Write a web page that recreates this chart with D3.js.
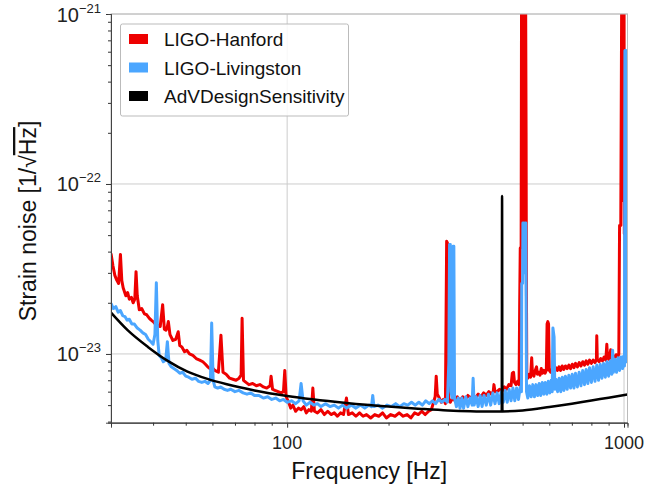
<!DOCTYPE html>
<head>
  <meta charset="utf-8">
  <title>Strain noise</title>
  <script src="https://cdn.jsdelivr.net/npm/d3@7/dist/d3.min.js"></script>
  <style>
    body { margin: 0; background: #fff; }
    text { font-family: "Liberation Sans", Arial, Helvetica, sans-serif; }
  </style>
</head>
<body>
<script>
// ASD values are in units of 1e-23 / sqrt(Hz); pairs are [frequency Hz, value]
var UNIT = 1e-23

var hanford = [
  [30,3.9],[30.4,3.3],[30.8,2.9],[31.2,2.72],[31.6,2.6],[32.0,3.85],[32.3,2.7],[32.6,2.45],[33.2,2.2],[33.6,2.3],
  [34.0,2.1],[34.5,2.15],[34.9,2.0],[35.3,2.1],[35.6,3.05],[35.9,2.2],[36.4,1.82],[37.0,1.85],[37.7,1.72],[38.3,1.7],
  [39.0,1.62],[39.5,1.58],[40.0,1.55],[40.6,1.5],[41.3,1.47],[42.0,1.45],[42.7,1.95],[43.2,1.4],[43.7,1.38],[44.1,1.45],
  [44.4,1.55],[44.9,1.3],[45.8,1.2],[46.7,1.22],[47.5,1.35],[48.0,1.12],[48.7,1.1],[49.6,1.03],[50.4,1.05],[51.3,1.0],
  [52.5,0.98],[53.7,0.94],[55.0,0.92],[56.2,0.9],[57.2,0.87],[58.1,0.84],[59.0,0.82],[60.0,0.83],[61.0,0.8],[62.5,0.78],
  [63.6,1.29],[64.5,0.78],[65.9,0.76],[67.5,0.72],[69,0.71],[70.5,0.7],[72,0.72],[73.0,0.75],[73.5,1.62],[74.2,0.7],
  [75.5,0.68],[77,0.66],[79,0.67],[81,0.65],[83,0.66],[85,0.64],[87,0.63],[89,0.65],[89.6,0.74],[90.5,0.62],
  [92,0.61],[94,0.6],[96,0.59],[97.5,0.6],[98.4,0.8],[99.3,0.56],[101,0.52],[102.5,0.48],[104,0.5],[106,0.46],
  [108,0.48],[110,0.47],[112,0.49],[114,0.45],[116,0.47],[118,0.46],[119.2,0.63],[120.5,0.46],[123,0.45],[126,0.47],
  [129,0.44],[132,0.46],[135,0.44],[138,0.45],[141,0.43],[144,0.45],[147,0.44],[150,0.55],[152,0.44],[156,0.45],
  [160,0.43],[164,0.45],[168,0.43],[172,0.44],[177,0.42],[182,0.44],[187,0.43],[192,0.45],[197,0.42],[203,0.44],
  [209,0.43],[215,0.45],[221,0.43],[227,0.44],[233,0.42],[239,0.45],[245,0.44],[251,0.46],[257,0.44],[263,0.46],
  [268,0.47],[272,0.52],[275,0.56],[277,0.74],[279,0.58],[283,0.55],[287,0.52],[291,0.54],[295,0.51],[296.5,2.0],
  [297.5,4.6],[299,4.5],[300,0.9],[302,0.53],[305,0.52],[310,0.55],[315,0.53],[320,0.56],[326,0.53],[332,0.56],
  [338,0.54],[344,0.57],[350,0.55],[356,0.57],[362,0.55],[369,0.58],[376,0.56],[383,0.59],[390,0.57],[397,0.6],
  [404,0.58],[409,0.6],[411,0.66],[414,0.6],[420,0.6],[427,0.62],[434,0.6],[441,0.64],[448,0.62],[455,0.66],
  [462,0.65],[466,0.77],[470,0.78],[473,0.68],[478,0.66],[483,0.69],[488,0.66],[490,1.9],[492,4.2],[495,4.2],
  [496.5,200],[498,6],[500,200],[502,6],[504,200],[506,6],[508,200],[510,200],[512,20],[513,3.0],
  [514.5,0.75],[518,0.72],[523,0.76],[528,0.73],[532,0.95],[535,0.76],[540,0.74],
  [545,0.8],[550,0.84],[553,0.76],[558,0.78],[563,0.75],[568,0.82],[573,0.77],[578,0.8],[583,0.77],[588,0.8],
  [591,1.5],[594,1.55],[597,1.5],[600,0.8],[606,0.78],[613,0.82],[620,0.79],[627,0.83],[634,0.8],[641,0.84],
  [648,0.8],[655,0.85],[662,0.81],[670,0.85],[678,0.82],[686,0.86],[694,0.82],[702,0.87],[710,0.83],[718,0.88],
  [727,0.84],[736,0.89],[745,0.85],[754,0.9],[763,0.86],[772,0.91],[781,0.87],[790,0.92],[800,0.88],[810,0.92],
  [820,0.89],[828,0.93],[830,1.28],[833,0.93],[843,0.9],[853,0.94],[863,0.91],[873,0.96],[883,0.92],[889,1.14],
  [893,0.96],[903,0.93],[913,1.06],[918,0.95],[928,0.98],[938,0.94],[948,0.99],[958,0.96],[965,1.0],[970,5.7],
  [978,5.7],[985,200],[988,8],[991,200],[994,8],[997,200],[1000,200],[1002,5.1],[1007,5.1],[1010,1.05],
  [1016,1.0],[1024,1.02]
]

var livingston = [
  [30,1.98],[30.5,1.85],[31,1.9],[31.5,1.76],[32,1.8],[32.5,1.68],[33,1.66],[33.5,1.58],[34,1.6],[34.6,1.5],
  [35.2,1.5],[35.9,1.42],[36.6,1.38],[37.3,1.33],[38,1.3],[38.7,1.22],[39.4,1.18],[40.0,1.14],[40.5,1.3],[40.9,2.62],
  [41.3,1.2],[41.7,0.98],[42.3,0.95],[42.9,0.9],[43.6,0.92],[44.1,1.18],[44.6,0.88],[45.3,0.84],[46.1,0.82],[47,0.8],
  [48,0.77],[49,0.78],[50,0.74],[51,0.73],[52.2,0.71],[53.4,0.72],[54.6,0.69],[55.8,0.68],[57,0.69],[58.2,0.67],
  [59.2,0.7],[59.7,1.52],[60.3,0.7],[61,0.64],[62.2,0.63],[63.5,0.64],[65,0.62],[66.5,0.61],[68,0.62],[70,0.6],
  [72,0.61],[74,0.59],[76,0.58],[78,0.59],[80,0.57],[82.5,0.57],[85,0.55],[87.5,0.56],[90,0.54],[92.5,0.55],
  [95,0.53],[97.5,0.54],[100,0.52],[103,0.53],[106,0.51],[108.5,0.53],[110,0.67],[111.5,0.53],[114,0.5],[117,0.52],
  [120,0.5],[123,0.51],[126,0.49],[130,0.51],[134,0.49],[138,0.5],[142,0.48],[146,0.5],[150,0.48],[155,0.5],
  [160,0.48],[165,0.5],[170,0.48],[175,0.5],[178,0.49],[179.5,0.57],[181,0.49],[186,0.5],[192,0.48],[198,0.5],
  [204,0.49],[210,0.51],[216,0.49],[222,0.51],[228,0.5],[234,0.52],[240,0.5],[246,0.52],[252,0.5],[258,0.53],
  [264,0.51],[270,0.53],[276,0.51],[282,0.54],[288,0.52],[294,0.54],[299,0.52],[302,0.9],[303.5,4.4],[305,4.4],
  [306.5,0.6],[309,0.55],[311,4.3],[312.5,4.3],[314,0.55],[318,0.49],[322,0.55],[326,0.48],[330,0.55],[334,0.48],
  [339,0.56],[344,0.49],[349,0.55],[354,0.5],[356.5,0.72],[359,0.5],[364,0.56],[369,0.49],[374,0.57],[379,0.49],
  [384,0.57],[390,0.5],[396,0.58],[402,0.5],[408,0.59],[414,0.51],[420,0.59],[426,0.51],[432,0.6],[438,0.52],
  [444,0.61],[450,0.52],[456,0.62],[462,0.53],[468,0.63],[474,0.53],[480,0.63],[486,0.54],[492,0.64],[496,0.6],
  [497,2.6],[500,2.6],[501,5.9],[503,3],[505,5.9],[507,3],[509,5.9],[511,5.9],[512,2.2],[513.5,0.6],
  [518,0.55],[524,0.65],[530,0.56],[536,0.66],
  [542,0.56],[548,0.66],[554,0.57],[560,0.67],[566,0.57],[572,0.68],[578,0.58],[584,0.68],[590,0.58],[596,0.69],
  [602,0.59],[608,0.7],[612,0.6],[615,1.42],[620,1.26],[623,0.62],[628,0.71],[635,0.6],[642,0.72],[649,0.6],
  [656,0.73],[663,0.61],[670,0.74],[678,0.62],[686,0.75],[694,0.63],[702,0.76],[710,0.63],[718,0.77],[727,0.64],
  [736,0.78],[745,0.65],[754,0.8],[763,0.66],[772,0.81],[781,0.67],[790,0.83],[800,0.68],[810,0.84],[820,0.69],
  [830,0.86],[840,0.7],[850,0.87],[860,0.72],[870,0.88],[880,0.73],[890,0.9],[900,0.74],[910,0.91],[920,0.76],
  [925,1.05],[930,0.78],[940,0.93],[950,0.78],[960,0.95],[970,0.8],[980,0.96],[990,0.82],[997,0.97],[1003,0.85],
  [1006,61],[1009,10],[1012,61],[1015,61],[1018,0.9],[1024,0.92]
]

var advDesign = [
  [30,1.75],[33.6,1.38],[38.6,1.10],[44.2,0.91],[50.6,0.787],[58,0.713],[66.2,0.663],[80,0.61],[100,0.566],[150,0.515],
  [200,0.49],[250,0.475],[300,0.465],[350,0.46],[400,0.458],[433.5,0.458],[434.5,8.5],[435.5,0.459],[500,0.465],[600,0.487],
  [700,0.51],[800,0.533],[900,0.553],[1024,0.577]
]

var seriesNames = ["LIGO-Hanford", "LIGO-Livingston", "AdVDesignSensitivity"]
var seriesColors = ["#ee0000", "#4ba6ff", "#000000"]
var yLabelExps = [-23, -22, -21]
var xLabelVals = [100, 1000]

var W = 646, H = 489
var svg = d3.select("body").append("svg").attr("width", W).attr("height", H)
svg.append("rect").attr("width", W).attr("height", H).attr("fill", "#fff")

var margin = {left: 111, right: 627.5, top: 14, bottom: 422.7}

var x = d3.scaleLog().domain([30, 1024]).range([margin.left, margin.right])
var y = d3.scaleLog().domain([3.94e-24, 1e-21]).range([margin.bottom, margin.top])

svg.append("clipPath").attr("id", "clip").append("rect")
  .attr("x", margin.left).attr("y", margin.top)
  .attr("width", margin.right - margin.left).attr("height", margin.bottom - margin.top)

// grid
var grid = svg.append("g").attr("stroke", "#cccccc").attr("stroke-width", 1)
xLabelVals.forEach(function(v) {
  grid.append("line").attr("x1", x(v)).attr("x2", x(v)).attr("y1", margin.top).attr("y2", margin.bottom)
})
yLabelExps.forEach(function(e) {
  grid.append("line").attr("x1", margin.left).attr("x2", margin.right)
    .attr("y1", y(Math.pow(10, e))).attr("y2", y(Math.pow(10, e)))
})

// lines
var line = d3.line().x(function(d) { return x(d[0]) }).y(function(d) { return y(d[1] * UNIT) })
var smoothLine = d3.line().curve(d3.curveMonotoneX).x(function(d) { return x(d[0]) }).y(function(d) { return y(d[1] * UNIT) })
var plot = svg.append("g").attr("clip-path", "url(#clip)")
var allSeries = [hanford, livingston, advDesign]
allSeries.forEach(function(s, i) {
  plot.append("path").datum(s)
    .attr("fill", "none")
    .attr("stroke", seriesColors[i])
    .attr("stroke-width", i == 2 ? 2.5 : 3)
    .attr("stroke-linejoin", "round")
    .attr("d", i == 2 ? smoothLine : line)
})

// frame
svg.append("rect").attr("x", margin.left).attr("y", margin.top)
  .attr("width", margin.right - margin.left).attr("height", margin.bottom - margin.top)
  .attr("fill", "none").attr("stroke", "#bbbbbb").attr("stroke-width", 1)

// axes
var xMinor = x.ticks().filter(function(v) { return xLabelVals.indexOf(v) < 0 })
var xAxisMajor = d3.axisBottom(x).tickValues(xLabelVals).tickSize(5).tickFormat("")
var xAxisMinor = d3.axisBottom(x).tickValues(xMinor).tickSize(3).tickFormat("")
var yMajorVals = yLabelExps.map(function(e) { return Math.pow(10, e) })
var yMinor = y.ticks().filter(function(v) { return yMajorVals.every(function(m) { return Math.abs(m - v) / m > 1e-6 }) })
var yAxisMajor = d3.axisLeft(y).tickValues(yMajorVals).tickSize(5).tickFormat("")
var yAxisMinor = d3.axisLeft(y).tickValues(yMinor).tickSize(3).tickFormat("")

var gx = svg.append("g").attr("transform", "translate(0," + margin.bottom + ")")
gx.append("g").call(xAxisMajor)
gx.append("g").call(xAxisMinor)
var gy = svg.append("g").attr("transform", "translate(" + margin.left + ",0)")
gy.append("g").call(yAxisMajor)
gy.append("g").call(yAxisMinor)
svg.selectAll(".domain").attr("stroke", "#444").attr("stroke-width", 1)
svg.selectAll(".tick line").attr("stroke", "#333").attr("stroke-width", 1)

// tick labels
svg.selectAll(".xlab").data(xLabelVals).enter().append("text")
  .attr("x", function(d) { return x(d) }).attr("y", margin.bottom + 26)
  .attr("text-anchor", "middle").attr("font-size", 18).attr("fill", "#222")
  .text(function(d) { return d })

var ylab = svg.selectAll(".ylab").data(yLabelExps).enter().append("text")
  .attr("x", 101).attr("y", function(d) { return y(Math.pow(10, d)) + 7.5 })
  .attr("text-anchor", "end").attr("fill", "#222")
ylab.append("tspan").attr("font-size", 20).text("10")
ylab.append("tspan").attr("font-size", 13).attr("dy", -9).text(function(d) { return "\u2212" + Math.abs(d) })

// axis labels
svg.append("text").attr("x", (margin.left + margin.right) / 2).attr("y", 479)
  .attr("text-anchor", "middle").attr("font-size", 23).attr("fill", "#111")
  .text("Frequency [Hz]")

var yt = svg.append("text")
  .attr("transform", "translate(36,221) rotate(-90)")
  .attr("text-anchor", "middle").attr("font-size", 23).attr("fill", "#111")
yt.append("tspan").text("Strain noise [1/\u221a")
yt.append("tspan").style("text-decoration", "overline").text("Hz")
yt.append("tspan").text("]")

// legend
var lg = svg.append("g")
lg.append("rect").attr("x", 120.5).attr("y", 24).attr("width", 228).attr("height", 92).attr("rx", 2)
  .attr("fill", "#fff").attr("fill-opacity", 0.85).attr("stroke", "#bbbbbb")
seriesNames.forEach(function(n, i) {
  var cy = 39 + i * 28.5
  lg.append("rect").attr("x", 129).attr("y", cy - 5).attr("width", 19).attr("height", 10).attr("fill", seriesColors[i])
  lg.append("text").attr("x", 164).attr("y", cy + 7).attr("font-size", 19).attr("fill", "#111").text(n)
})
</script>
</body>
